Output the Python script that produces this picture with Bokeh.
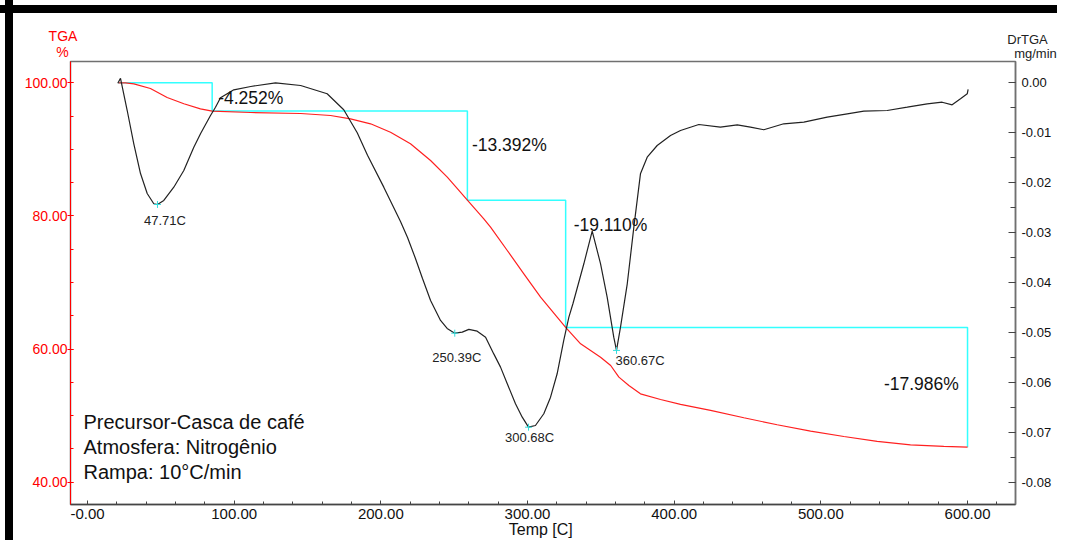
from bokeh.plotting import figure
from bokeh.models import Range1d, LinearAxis, FixedTicker, NumeralTickFormatter, Label
from bokeh.embed import file_html
from bokeh.resources import INLINE
from bokeh.core.properties import value

FONT = "Liberation Sans"

# ---------------- data ----------------
temp_tga = [21.1, 25.9, 31.6, 42.9, 54.3, 65.7, 77.0, 85.0, 111.2, 145.3, 165.7, 179.3,
            193.0, 206.6, 220.2, 233.9, 245.3, 259.0, 270.2, 274.8, 286.2, 297.5, 308.9,
            320.2, 326.0, 336.2, 349.8, 356.7, 362.3, 369.1, 377.0, 390.7, 404.3, 424.8,
            447.5, 470.2, 493.0, 515.7, 538.4, 561.1, 583.8, 600.0]
tga = [100.0, 100.0, 99.85, 99.14, 97.79, 96.85, 96.09, 95.75, 95.54, 95.39, 95.09, 94.59,
       93.84, 92.58, 90.84, 88.33, 85.82, 82.36, 79.57, 78.31, 74.81, 71.31, 67.79,
       64.79, 63.25, 60.79, 58.78, 57.53, 55.78, 54.53, 53.28, 52.43, 51.68, 50.78,
       49.68, 48.63, 47.66, 46.87, 46.12, 45.62, 45.38, 45.26]

temp_dr = [20.66, 22.5, 27.07, 31.57, 36.14, 40.70, 45.20, 47.71, 52.02, 58.84, 65.66,
           72.48, 77.04, 83.86, 87.27, 90.68, 99.75, 111.3, 128.2, 145.3, 163.4, 174.7,
           183.9, 190.9, 202.0, 213.4, 218.2, 223.6, 228.4, 233.9, 240.7, 245.2, 250.39,
           255.5, 260.0, 265.7, 271.4, 277.0, 281.6, 286.2, 291.8, 296.4, 300.68, 305.4,
           311.1, 315.7, 320.2, 324.7, 328.2, 331.0, 338.4, 344.1, 349.8, 354.3, 358.8,
           360.67, 363.4, 368.0, 372.5, 377.0, 381.6, 388.4, 397.5, 404.3, 416.8, 431.5,
           443.0, 452.0, 461.1, 474.7, 488.4, 504.3, 518.0, 529.3, 545.2, 558.9, 572.5,
           582.7, 589.5, 595.2, 599.8, 600.4]
drtga = [-0.0001, 0.0009, -0.00555, -0.01222, -0.01817, -0.02217, -0.02423, -0.02437,
         -0.02357, -0.02091, -0.01757, -0.0129, -0.01021, -0.00655, -0.00489, -0.0030,
         -0.0014, -0.00074, 0.0, -0.00054, -0.0022, -0.0054, -0.0100, -0.0145, -0.0209,
         -0.0278, -0.03098, -0.03519, -0.0392, -0.0436, -0.0476, -0.0492, -0.05015,
         -0.04995, -0.0494, -0.04975, -0.05095, -0.0543, -0.05695, -0.06028, -0.06429,
         -0.06697, -0.06898, -0.06864, -0.06629, -0.06297, -0.05828, -0.05161, -0.04695,
         -0.0442, -0.03625, -0.02972, -0.03625, -0.04294, -0.05095, -0.0536, -0.04895,
         -0.04026, -0.02892, -0.01823, -0.0149, -0.01256, -0.01055, -0.00955, -0.00835,
         -0.00889, -0.00841, -0.00889, -0.00941, -0.00821, -0.00789, -0.00689, -0.00621,
         -0.00569, -0.00555, -0.00489, -0.00421, -0.00389, -0.00441, -0.0032, -0.0022,
         -0.00134]

step_temps = [21.0, 85.0, 259.0, 326.0, 600.0]
step_losses = [4.252, 13.392, 19.110, 17.986]

peak_temps = [47.71, 250.39, 300.68, 360.67]
peak_dr = [-0.02437, -0.05015, -0.06898, -0.0536]

x_ticks = [0, 100, 200, 300, 400, 500, 600]
x_minor = list(range(-20, 640, 20))
tga_ticks = [40, 60, 80, 100]
tga_minor = list(range(40, 105, 5))
dr_ticks = [0.0, -0.01, -0.02, -0.03, -0.04, -0.05, -0.06, -0.07, -0.08]
dr_minor = [-0.005 * i for i in range(0, 17)]

info_lines = ["Precursor-Casca de café", "Atmosfera: Nitrogênio", "Rampa: 10°C/min"]
x_title = "Temp  [C]"

# ---------------- figure ----------------
p = figure(width=1057, height=540, output_backend="svg", toolbar_location=None,
           title_location=None,
           x_range=Range1d(-11.59, 632.7), y_range=Range1d(36.65, 103.2),
           min_border_left=70, min_border_right=42, min_border_top=61, min_border_bottom=36,
           background_fill_color="white", border_fill_color=None)
p.styles = {
    "background": "linear-gradient(to right, transparent 5px, #000 5px, #000 13px, transparent 13px), "
                  "linear-gradient(to bottom, transparent 5px, #000 5px, #000 13px, transparent 13px), "
                  "#ffffff"
}
p.grid.visible = False
p.outline_line_color = "#707070"
p.outline_line_width = 1.5

p.extra_y_ranges = {"dr": Range1d(-0.084467, 0.004266)}

# bottom axis
xa = p.xaxis[0]
xa.ticker = FixedTicker(ticks=x_ticks, minor_ticks=x_minor)
xa.formatter = NumeralTickFormatter(format="0.00")
xa.major_label_overrides = {0: "-0.00"}
xa.axis_line_color = "#444444"
xa.axis_line_width = 1.5
xa.major_tick_line_color = "#444444"
xa.minor_tick_line_color = "#444444"
xa.major_tick_in = 4
xa.major_tick_out = 0
xa.minor_tick_in = 3
xa.minor_tick_out = 0
xa.major_label_standoff = 4
xa.major_label_text_font = FONT
xa.major_label_text_font_size = "15px"
xa.major_label_text_color = "#111111"
xa.axis_label = x_title
xa.axis_label_text_font = FONT
xa.axis_label_text_font_size = "16px"
xa.axis_label_text_font_style = "normal"
xa.axis_label_text_color = "#111111"
xa.axis_label_standoff = -1

# left axis (TGA)
ya = p.yaxis[0]
ya.ticker = FixedTicker(ticks=tga_ticks, minor_ticks=tga_minor)
ya.formatter = NumeralTickFormatter(format="0.00")
ya.axis_line_color = "red"
ya.major_tick_line_color = "red"
ya.minor_tick_line_color = "red"
ya.major_tick_in = 3
ya.major_tick_out = 3
ya.minor_tick_in = 3
ya.minor_tick_out = 0
ya.major_label_standoff = 0
ya.major_label_text_font = FONT
ya.major_label_text_font_size = "14px"
ya.major_label_text_color = "red"

# right axis (DrTGA)
ra = LinearAxis(y_range_name="dr")
ra.ticker = FixedTicker(ticks=dr_ticks, minor_ticks=dr_minor)
ra.formatter = NumeralTickFormatter(format="0.00")
ra.axis_line_color = "#707070"
ra.axis_line_width = 1.5
ra.major_tick_line_color = "#444444"
ra.minor_tick_line_color = "#444444"
ra.major_tick_in = 7
ra.major_tick_out = 0
ra.minor_tick_in = 5
ra.minor_tick_out = 0
ra.major_label_standoff = 6
ra.major_label_text_font = FONT
ra.major_label_text_font_size = "13px"
ra.major_label_text_color = "#111111"
p.add_layout(ra, "right")

# axis titles, placed in side panels (canvas pixel units)
def unit_label(x, y, text, color, size):
    return Label(x=x, y=y, x_units="canvas", y_units="canvas", text=text,
                 text_align="center", text_baseline="alphabetic", text_font=FONT,
                 text_font_size=size, text_color=color)

p.add_layout(unit_label(62.5, 35, "TGA", "red", "14px"), "above")
p.add_layout(unit_label(1027, 38.5, "DrTGA", "#222222", "13px"), "above")
p.add_layout(unit_label(1035, 53, "mg/min", "#222222", "13px"), "above")
p.add_layout(unit_label(62, 51.5, "%", "red", "14px"), "left")

# step (cyan) line
levels = [100.0]
for loss in step_losses:
    levels.append(levels[-1] - loss)
sx = [step_temps[0]]
sy = [levels[0]]
for i in range(len(step_losses)):
    sx += [step_temps[i + 1], step_temps[i + 1]]
    sy += [levels[i], levels[i + 1]]
p.line(sx, sy, line_color="#33ffff", line_width=1.5)

# curves
p.line(temp_tga, tga, line_color="#ff2020", line_width=1.2)
p.line(temp_dr, drtga, line_color="#222222", line_width=1.2, y_range_name="dr")
p.scatter(peak_temps, peak_dr, marker="cross", size=7, line_color="#33dddd",
          line_width=1, y_range_name="dr")

# step labels
step_txt = ["-%.3f%%" % l for l in step_losses]
p.text(step_temps[1:4], levels[0:3], text=step_txt[0:3],
       x_offset=[6, 4.5, 8], y_offset=[15.4, 33.6, 24.8],
       text_align="left", text_baseline="alphabetic",
       text_font=value(FONT), text_font_size="17.5px", text_color="#111111")
p.text(step_temps[4:5], levels[3:4], text=step_txt[3:4],
       x_offset=[-8.7], y_offset=[56.6],
       text_align="right", text_baseline="alphabetic",
       text_font=value(FONT), text_font_size="17.5px", text_color="#111111")

# peak labels
peak_txt = ["%.2fC" % t for t in peak_temps]
p.text(peak_temps[0:3], peak_dr[0:3], text=peak_txt[0:3],
       x_offset=[7.5, 2, 1], y_offset=[16.3, 24, 10.7],
       text_align="center", text_baseline="alphabetic",
       text_font=value(FONT), text_font_size="13px", text_color="#222222",
       y_range_name="dr")
p.text(peak_temps[3:4], peak_dr[3:4], text=peak_txt[3:4],
       x_offset=[-1], y_offset=[10],
       text_align="left", text_baseline="alphabetic",
       text_font=value(FONT), text_font_size="13px", text_color="#222222",
       y_range_name="dr")

# info text (screen units are relative to the plot frame)
for i, line in enumerate(info_lines):
    p.add_layout(Label(x=13, y=83 - 25 * i, x_units="screen", y_units="screen",
                       text=line, text_align="left", text_baseline="alphabetic",
                       text_font=FONT, text_font_size="20px", text_color="#111111"))

open("out.html", "w").write(file_html(p, INLINE))
